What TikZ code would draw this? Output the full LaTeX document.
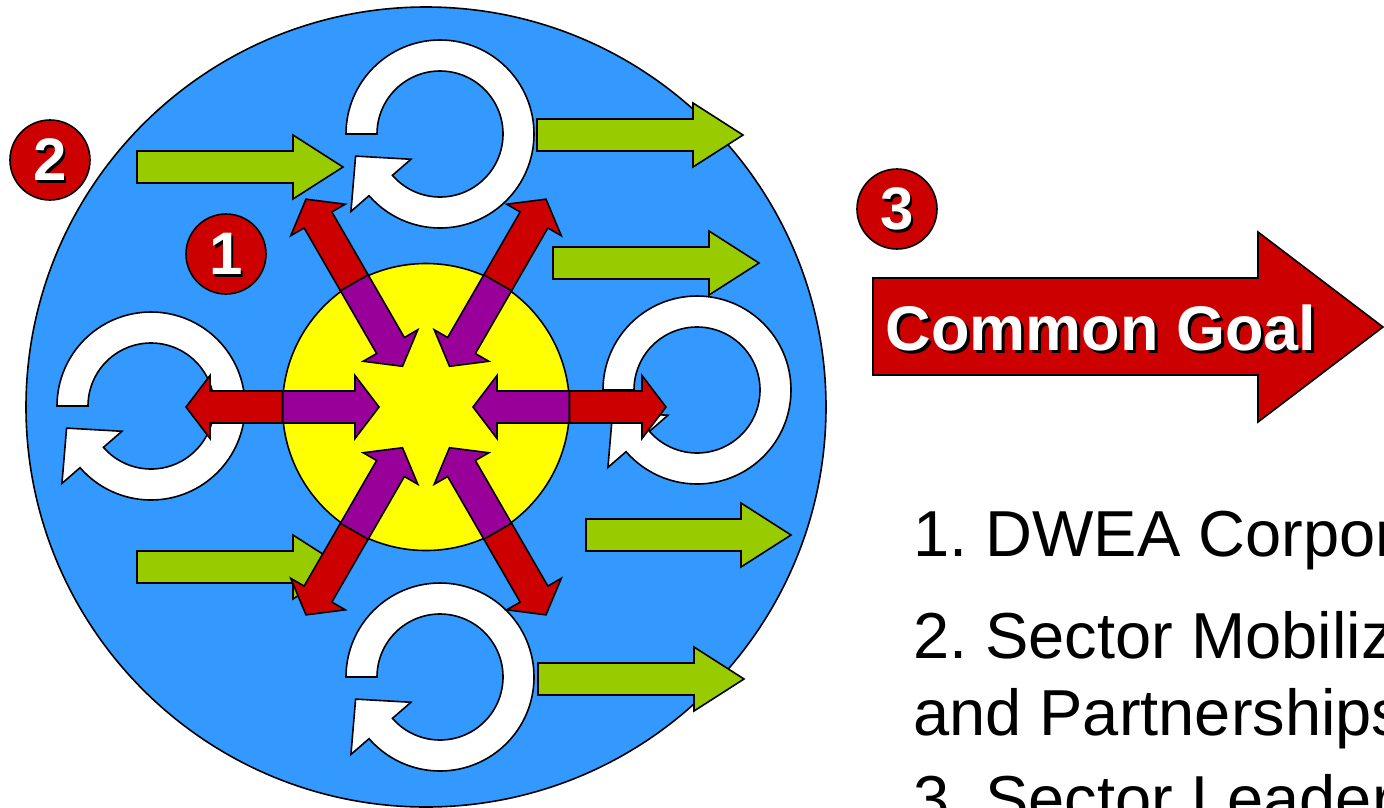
\documentclass[tikz,border=0pt]{standalone}
\usepackage{fontspec}
\setmainfont{Liberation Sans}
\frenchspacing
\definecolor{bgblue}{HTML}{3399FF}
\definecolor{ared}{HTML}{CC0000}
\definecolor{apurple}{HTML}{990099}
\definecolor{agreen}{HTML}{99CC00}
\definecolor{ayellow}{HTML}{FFFF00}
\newcommand\garrow[3]{\draw[outl,fill=agreen] (#1,#2-16) -- (#3-50,#2-16) -- (#3-50,#2-32) -- (#3,#2) -- (#3-50,#2+32) -- (#3-50,#2+16) -- (#1,#2+16) -- cycle;}
\newcommand\ringarrow[2]{\draw[outl,fill=white,shift={(#1,#2)}] (180:94) arc[start angle=180,end angle=499,radius=94] -- (499:118) -- (-84.4,22.1) -- (499:38.5) -- (499:63) arc[start angle=499,end angle=180,radius=63] -- cycle;}
\newcommand\badge[4]{%
  \node[badgecirc] (#4) at (#1,#2) {};
  \node[badgetxt,text=black] (#4s) at (#1+2.5,#2+2.5) {#3};
  \node[badgetxt,text=white] (#4t) at (#1,#2) {#3};}
\begin{document}
\begin{tikzpicture}[x=1pt,y=-1pt,
  outl/.style={draw=black,line width=1.6pt,line join=miter},
  badgecirc/.style={circle,draw=black,line width=1.6pt,fill=ared,minimum size=80pt,inner sep=0pt},
  badgetxt/.style={inner sep=0pt,font=\fontsize{60}{62}\selectfont\bfseries},
  bodytxt/.style={inner sep=0pt,anchor=base west,font=\fontsize{65}{76}\selectfont}]
\clip (0,0) rectangle (1384,807);
% background circles
\draw[outl,fill=bgblue] (426,407) circle[radius=400];
\draw[outl,fill=ayellow] (426,407) circle[radius=143.5];
% green arrows
\garrow{137}{167}{343}
\garrow{137}{567}{343}
\garrow{537}{135}{743}
\garrow{553}{263}{759}
\garrow{586}{535}{791}
\garrow{538}{679}{744}
% circular arrows
\ringarrow{440}{134}
\ringarrow{151}{406}
\ringarrow{697}{390}
\ringarrow{440}{677}
% central double arrows
\foreach \a in {0,60,...,300}{
  \begin{scope}[shift={(426,407)},rotate=\a]
    \draw[outl,fill=apurple] (143.5,-16) -- (71,-16) -- (71,-31.5) -- (47,0) -- (71,31.5) -- (71,16) -- (143.5,16) -- cycle;
    \draw[outl,fill=ared] (143.5,-16) -- (216,-16) -- (216,-31.5) -- (240,0) -- (216,31.5) -- (216,16) -- (143.5,16) -- cycle;
  \end{scope}}
% badges
\badge{50}{160}{2}{b2}
\badge{226}{254}{1}{b1}
\badge{897}{209}{3}{b3}
% common goal arrow
\draw[outl,fill=ared] (873,278) -- (1258,278) -- (1258,232) -- (1383,327) -- (1258,422) -- (1258,375) -- (873,375) -- cycle;
\node[inner sep=0pt,anchor=base,text=black,font=\fontsize{63}{75}\selectfont\bfseries] (cgs) at (1104,353) {Common Goal};
\node[inner sep=0pt,anchor=base,text=white,font=\fontsize{63}{75}\selectfont\bfseries] (cg) at (1101,350) {Common Goal};
% list text
\node[bodytxt] (l1) at (913,556) {1. DWEA Corporate};
\node[bodytxt] (l2) at (913,658) {2. Sector Mobilization};
\node[bodytxt] (l3) at (913,735) {and Partnerships};
\node[bodytxt] (l4) at (913,821) {3. Sector Leadership};
\end{tikzpicture}
\end{document}
